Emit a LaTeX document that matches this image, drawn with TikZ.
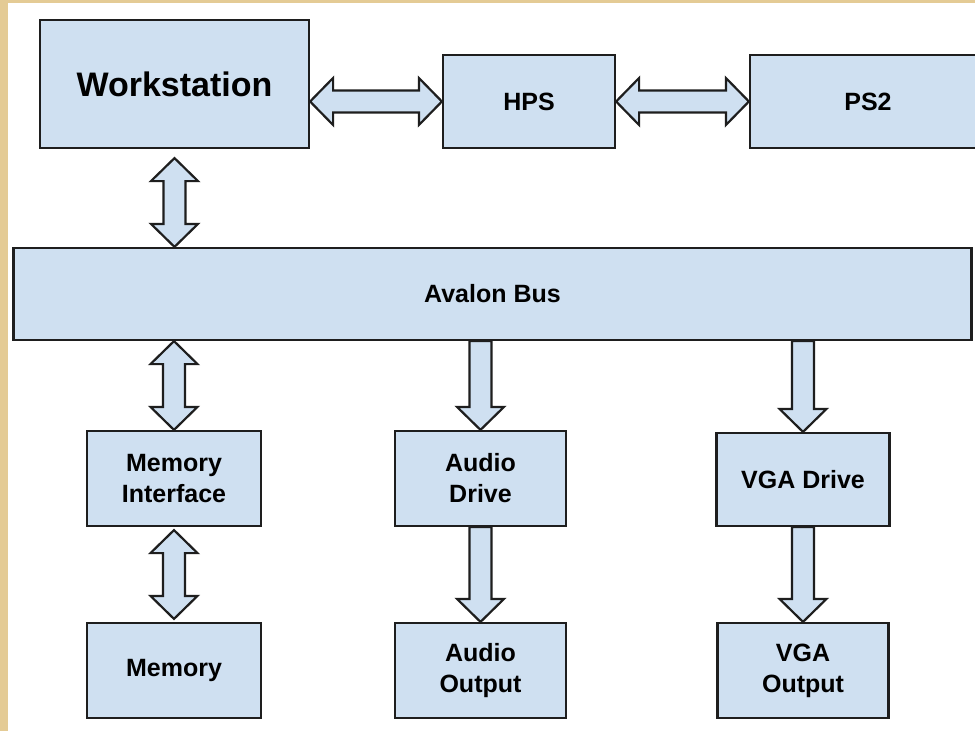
\documentclass[tikz,border=0pt]{standalone}
\usepackage{fontspec}
\setmainfont{Liberation Sans}
\usetikzlibrary{calc}
\definecolor{boxblue}{HTML}{CFE0F1}
\definecolor{edgec}{HTML}{1E1E1E}
\definecolor{parch}{HTML}{E4CB95}
\tikzset{
  box/.style={draw=edgec, line width=2.2pt, fill=boxblue, inner sep=0pt, align=center,
    font=\bfseries\fontsize{25}{31}\selectfont},
  fat/.style={draw=edgec, line width=2.2pt, fill=boxblue, line join=miter}
}
\newcommand\hdbl[2]{\draw[fat] let \p1=(#1), \p2=(#2) in
 (\x1,\y2) -- (\x1+23pt,\y2+23.5pt) -- (\x1+23pt,\y2+11pt) -- (\x2-23pt,\y2+11pt) -- (\x2-23pt,\y2+23.5pt) -- (\x2,\y2)
 -- (\x2-23pt,\y2-23.5pt) -- (\x2-23pt,\y2-11pt) -- (\x1+23pt,\y2-11pt) -- (\x1+23pt,\y2-23.5pt) -- cycle;}
\newcommand\vdbl[2]{\draw[fat] let \p1=(#1), \p2=(#2) in
 (\x1,\y1) -- (\x1+23.5pt,\y1-23pt) -- (\x1+11pt,\y1-23pt) -- (\x1+11pt,\y2+23pt) -- (\x1+23.5pt,\y2+23pt) -- (\x1,\y2)
 -- (\x1-23.5pt,\y2+23pt) -- (\x1-11pt,\y2+23pt) -- (\x1-11pt,\y1-23pt) -- (\x1-23.5pt,\y1-23pt) -- cycle;}
\newcommand\vsgl[2]{\draw[fat] let \p1=(#1), \p2=(#2) in
 (\x1-11pt,\y1) -- (\x1-11pt,\y2+23pt) -- (\x1-23.5pt,\y2+23pt) -- (\x1,\y2) -- (\x1+23.5pt,\y2+23pt)
 -- (\x1+11pt,\y2+23pt) -- (\x1+11pt,\y1) -- cycle;}
\begin{document}
\begin{tikzpicture}[x=1pt,y=-1pt]
\useasboundingbox (0,0) rectangle (975,731);
\fill[white] (0,0) rectangle (975,731);
\fill[parch] (0,0) rectangle (8,731);
\fill[parch] (0,0) rectangle (975,3);
\clip (0,0) rectangle (975,731);
% boxes
\node[box, minimum width=269pt, minimum height=128pt, font=\bfseries\fontsize{34}{38}\selectfont] (ws) at (174.5,84) {Workstation};
\node[box, minimum width=172pt, minimum height=93pt] (hps) at (529,101.5) {HPS};
\node[box, minimum width=236pt, minimum height=93pt] (ps2) at (868,101.5) {PS2};
\node[box, minimum width=958pt, minimum height=92pt] (bus) at (492.5,294) {Avalon Bus};
\node[box, minimum width=174pt, minimum height=95pt] (mi) at (174,478.5) {Memory\\Interface};
\node[box, minimum width=171pt, minimum height=95pt] (ad) at (480.5,478.5) {Audio\\Drive};
\node[box, minimum width=173pt, minimum height=93pt] (vd) at (803,479.5) {VGA Drive};
\node[box, minimum width=174pt, minimum height=95pt] (mem) at (174,670.5) {Memory};
\node[box, minimum width=171pt, minimum height=95pt] (ao) at (480.5,670.5) {Audio\\Output};
\node[box, minimum width=171pt, minimum height=95pt] (vo) at (803,670.5) {VGA\\Output};
% connectors
\hdbl{ws.east |- hps.west}{hps.west}
\hdbl{hps.east}{ps2.west}
\vdbl{$(ws.south)+(0,9)$}{ws.south |- bus.north}
\vdbl{mi.north |- bus.south}{mi.north}
\vdbl{$(mi.south)+(0,3)$}{$(mem.north)+(0,-3)$}
\vsgl{ad.north |- bus.south}{ad.north}
\vsgl{ad.south}{ao.north}
\vsgl{vd.north |- bus.south}{vd.north}
\vsgl{vd.south}{vo.north}
\end{tikzpicture}
\end{document}
